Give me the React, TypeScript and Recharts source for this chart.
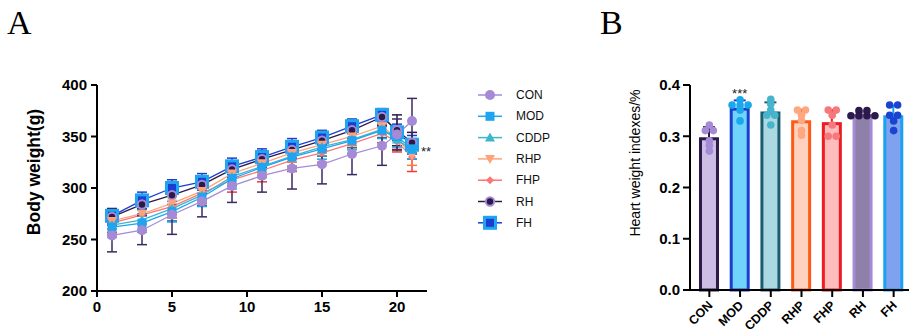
import React from 'react';
import { LineChart, Line, XAxis, YAxis, ErrorBar, ComposedChart, Bar, Scatter } from 'recharts';

// ---- Panel A: body weight over time ----
const days = [1, 3, 5, 7, 9, 11, 13, 15, 17, 19, 20, 21];
const dayTicks = [0, 5, 10, 15, 20];
const weightTicks = [200, 250, 300, 350, 400];

const conWeight = [254, 259, 274, 287, 302, 312, 319, 323, 333, 341, 352, 365];
const conWeightSd = [16, 14, 19, 15, 16, 16, 20, 19, 20, 19, 15, 22];
const modWeight = [262, 266, 277, 291, 309, 320, 330, 338, 346, 356, 350, 338];
const modWeightSd = [10, 9, 10, 9, 10, 10, 9, 10, 9, 8, 10, 10];
const cddpWeight = [264, 269, 280, 293, 311, 321, 331, 340, 347, 357, 347, 337];
const cddpWeightSd = [9, 10, 12, 10, 9, 9, 10, 9, 8, 8, 10, 9];
const rhpWeight = [268, 275, 285, 297, 314, 324, 334, 342, 350, 360, 348, 332];
const rhpWeightSd = [8, 9, 10, 9, 10, 9, 9, 8, 9, 8, 9, 10];
const fhpWeight = [266, 274, 282, 295, 308, 317, 327, 334, 343, 353, 345, 330];
const fhpWeightSd = [9, 9, 11, 10, 12, 11, 11, 9, 10, 9, 10, 14];
const rhWeight = [272, 284, 293, 303, 318, 328, 337, 346, 356, 369, 356, 344];
const rhWeightSd = [8, 9, 9, 8, 8, 8, 8, 9, 8, 8, 15, 10];
const fhWeight = [273, 288, 300, 306, 321, 330, 340, 349, 360, 371, 354, 342];
const fhWeightSd = [7, 8, 8, 8, 8, 8, 8, 7, 7, 6, 8, 9];

// ---- Panel B: heart weight index, one value per animal ----
const groups = ['CON', 'MOD', 'CDDP', 'RHP', 'FHP', 'RH', 'FH'];
const heartTicks = [0, 0.1, 0.2, 0.3, 0.4];
const conHeart = [0.322, 0.311, 0.311, 0.291, 0.282, 0.271];
const modHeart = [0.371, 0.361, 0.361, 0.361, 0.351, 0.330];
const cddpHeart = [0.372, 0.363, 0.351, 0.341, 0.341, 0.322];
const rhpHeart = [0.351, 0.351, 0.341, 0.331, 0.311, 0.302];
const fhpHeart = [0.351, 0.351, 0.341, 0.322, 0.300, 0.300];
const rhHeart = [0.350, 0.350, 0.340, 0.340, 0.340, 0.340];
const fhHeart = [0.361, 0.361, 0.341, 0.341, 0.330, 0.311];

const FONT = 'Arial, "Liberation Sans", Helvetica, sans-serif';
const SERIF = '"Liberation Serif", "Times New Roman", serif';

type MarkerKind = 'circle' | 'square' | 'triangle' | 'triangleDown' | 'diamond' | 'ringDot' | 'boxSquare';

const weightSeries = [
  { key: 'CON', mean: conWeight, sd: conWeightSd, color: '#a58bd6', err: '#3b2a63', marker: 'circle' as MarkerKind },
  { key: 'MOD', mean: modWeight, sd: modWeightSd, color: '#1ea4f0', err: '#1ea4f0', marker: 'square' as MarkerKind },
  { key: 'CDDP', mean: cddpWeight, sd: cddpWeightSd, color: '#3cb6cc', err: '#1d6e80', marker: 'triangle' as MarkerKind },
  { key: 'RHP', mean: rhpWeight, sd: rhpWeightSd, color: '#ffa27a', err: '#ff7a40', marker: 'triangleDown' as MarkerKind },
  { key: 'FHP', mean: fhpWeight, sd: fhpWeightSd, color: '#ff7474', err: '#f03c3c', marker: 'diamond' as MarkerKind },
  { key: 'RH', mean: rhWeight, sd: rhWeightSd, color: '#2a1a48', err: '#2a1a48', edge: '#a58bd6', marker: 'ringDot' as MarkerKind },
  { key: 'FH', mean: fhWeight, sd: fhWeightSd, color: '#1a3fd0', err: '#1a3fd0', edge: '#1ea4f0', marker: 'boxSquare' as MarkerKind },
];

const weightRows = days.map((day, i) => {
  const row: Record<string, number> = { day };
  weightSeries.forEach((s) => {
    row[s.key] = s.mean[i];
    row[s.key + '_sd'] = s.sd[i];
  });
  return row;
});

const heartStyles: Record<string, { fill: string; stroke: string; dot: string }> = {
  CON: { fill: '#cbbde3', stroke: '#2b1a4a', dot: '#a58bd6' },
  MOD: { fill: '#6fd3fa', stroke: '#1a3fd0', dot: '#1aa8ec' },
  CDDP: { fill: '#acd9e1', stroke: '#1c5c70', dot: '#46b4cc' },
  RHP: { fill: '#ffd2bf', stroke: '#ff5a14', dot: '#ffa77e' },
  FHP: { fill: '#ffbcbc', stroke: '#ec1c24', dot: '#f7787a' },
  RH: { fill: '#8e80a8', stroke: '#a58bd6', dot: '#2b1a4a' },
  FH: { fill: '#7fa2ee', stroke: '#1aa0f0', dot: '#1a44d0' },
};

const heartValues = [conHeart, modHeart, cddpHeart, rhpHeart, fhpHeart, rhHeart, fhHeart];

const heartRows = groups.map((name, i) => {
  const vals = heartValues[i];
  const mean = vals.reduce((a, b) => a + b, 0) / vals.length;
  const sd = Math.sqrt(vals.reduce((a, b) => a + (b - mean) ** 2, 0) / (vals.length - 1));
  return { pos: i, name, mean, sd };
});

// dots sharing a value are spread sideways like a small swarm
const heartDots = groups.flatMap((name, i) => {
  const vals = heartValues[i];
  return vals.map((value, j) => {
    const ties = vals.filter((v) => Math.abs(v - value) < 0.004);
    const rank = vals.slice(0, j).filter((v) => Math.abs(v - value) < 0.004).length;
    return { pos: i, value, name, shift: (rank - (ties.length - 1) / 2) * 8 };
  });
});

function Marker({ kind, cx, cy, color, edge }: { kind: MarkerKind; cx: number; cy: number; color: string; edge?: string }) {
  if (cx == null || cy == null) return <g />;
  switch (kind) {
    case 'circle':
      return <circle cx={cx} cy={cy} r={5} fill={color} />;
    case 'square':
      return <rect x={cx - 4.5} y={cy - 4.5} width={9} height={9} fill={color} />;
    case 'triangle':
      return <polygon points={`${cx},${cy - 5} ${cx + 5},${cy + 4} ${cx - 5},${cy + 4}`} fill={color} />;
    case 'triangleDown':
      return <polygon points={`${cx},${cy + 5} ${cx + 5},${cy - 4} ${cx - 5},${cy - 4}`} fill={color} />;
    case 'diamond':
      return <polygon points={`${cx},${cy - 4} ${cx + 4},${cy} ${cx},${cy + 4} ${cx - 4},${cy}`} fill={color} />;
    case 'ringDot':
      return <circle cx={cx} cy={cy} r={4.2} fill={color} stroke={edge} strokeWidth={2} />;
    case 'boxSquare':
      return <rect x={cx - 5.5} y={cy - 5.5} width={11} height={11} fill={color} stroke={edge} strokeWidth={3} />;
  }
  return <g />;
}

const AxisTitle = ({ text, cx, cy, bold, size }: { text: string; cx: number; cy: number; bold?: boolean; size: number }) => (
  <text
    x={cx}
    y={cy}
    transform={`rotate(-90, ${cx}, ${cy})`}
    textAnchor="middle"
    dominantBaseline="central"
    fontSize={size}
    fontWeight={bold ? 'bold' : 'normal'}
    fill="#000"
    style={{ fontFamily: FONT }}
  >
    {text}
  </text>
);

const WeightLegend = () => (
  <svg width={110} height={160} style={{ position: 'absolute', left: 470, top: 80 }}>
    {weightSeries.map((s, i) => {
      const y = 15 + i * 21.3;
      return (
        <g key={s.key}>
          <line x1={8} x2={32} y1={y} y2={y} stroke={s.key === 'RH' ? '#2a1a48' : s.color} strokeWidth={1.5} />
          <Marker kind={s.marker} cx={20} cy={y} color={s.color} edge={s.edge} />
          <text x={46} y={y} dominantBaseline="central" fontSize={12} fill="#111" style={{ fontFamily: FONT }}>
            {s.key}
          </text>
        </g>
      );
    })}
  </svg>
);

const HeartBar = (props: any) => {
  const { x, y, width, height, payload } = props;
  if (x == null || !payload) return <g />;
  const st = heartStyles[payload.name];
  const unit = height / payload.mean;
  const top = y - payload.sd * unit;
  const mid = x + width / 2;
  return (
    <g>
      <rect x={x + 1.5} y={y + 1.5} width={width - 3} height={height - 1.5} fill={st.fill} stroke={st.stroke} strokeWidth={3} />
      <line x1={mid} x2={mid} y1={y} y2={top} stroke={st.stroke} strokeWidth={2} />
      <line x1={mid - 6} x2={mid + 6} y1={top} y2={top} stroke={st.stroke} strokeWidth={2} />
    </g>
  );
};

const CategoryTick = (props: any) => {
  const { x, y, payload } = props;
  const tx = x + 4;
  const ty = y + 7;
  return (
    <text
      x={tx}
      y={ty}
      transform={`rotate(-45, ${tx}, ${ty})`}
      textAnchor="end"
      fontSize={12.5}
      fontWeight="bold"
      fill="#000"
      style={{ fontFamily: FONT }}
    >
      {groups[payload.value]}
    </text>
  );
};

const tickStyle = { fill: '#000', fontSize: 15, fontWeight: 'bold' as const };
const axisStroke = { stroke: '#000', strokeWidth: 2 };

export default function App() {
  const lastIndex = days.length - 1;
  const drawOrder = [...weightSeries].reverse();
  return (
    <div style={{ position: 'absolute', left: 0, top: 0, width: 909, height: 335, background: '#fff', fontFamily: FONT }}>
      <div style={{ position: 'absolute', left: 7, top: 4, fontFamily: SERIF, fontSize: 34 }}>A</div>
      <div style={{ position: 'absolute', left: 600, top: 4, fontFamily: SERIF, fontSize: 34 }}>B</div>

      <div style={{ position: 'absolute', left: 0, top: 0 }}>
        <LineChart width={560} height={335} data={weightRows} margin={{ top: 85, right: 133, bottom: 14, left: 37 }}>
          <XAxis
            type="number"
            dataKey="day"
            domain={[0, 22]}
            ticks={dayTicks}
            tick={tickStyle}
            axisLine={axisStroke}
            tickLine={axisStroke}
            tickSize={6}
            tickMargin={4}
            height={30}
          />
          <YAxis
            type="number"
            domain={[200, 400]}
            ticks={weightTicks}
            tick={tickStyle}
            axisLine={axisStroke}
            tickLine={axisStroke}
            tickSize={6}
            tickMargin={4}
            width={60}
            label={<AxisTitle text="Body weight(g)" cx={34} cy={172} bold size={17.5} />}
          />
          {drawOrder.map((s) => (
            <Line
              key={s.key}
              type="linear"
              dataKey={s.key}
              stroke={s.color}
              strokeWidth={1.3}
              isAnimationActive={false}
              dot={(p: any) => <Marker key={`${s.key}-${p.index}`} kind={s.marker} cx={p.cx} cy={p.cy} color={s.color} edge={s.edge} />}
              activeDot={false}
              label={
                s.key === 'MOD'
                  ? (p: any) =>
                      p.index === lastIndex ? (
                        <text key="sig" x={p.x + 9} y={p.y + 7} fontSize={13} fill="#222" style={{ fontFamily: FONT }}>
                          **
                        </text>
                      ) : (
                        <g key={`n${p.index}`} />
                      )
                  : false
              }
            >
              <ErrorBar dataKey={s.key + '_sd'} width={5} strokeWidth={1.5} stroke={s.err} direction="y" />
            </Line>
          ))}
        </LineChart>
      </div>

      <WeightLegend />

      <div style={{ position: 'absolute', left: 560, top: 0 }}>
        <ComposedChart width={349} height={335} data={heartRows} margin={{ top: 85, right: 0, bottom: 15, left: 70 }}>
          <XAxis
            type="number"
            dataKey="pos"
            domain={[-0.63, 6.5]}
            ticks={groups.map((_, i) => i)}
            tick={<CategoryTick />}
            axisLine={axisStroke}
            tickLine={axisStroke}
            tickSize={7}
            height={30}
            allowDataOverflow
          />
          <YAxis
            type="number"
            domain={[0, 0.4]}
            ticks={heartTicks}
            tickFormatter={(v: number) => v.toFixed(1)}
            tick={tickStyle}
            axisLine={axisStroke}
            tickLine={axisStroke}
            tickSize={7}
            tickMargin={3}
            width={60}
            label={<AxisTitle text="Heart weight indexes/%" cx={75} cy={163} size={14} />}
          />
          <Bar
            dataKey="mean"
            barSize={20}
            isAnimationActive={false}
            shape={<HeartBar />}
            label={(p: any) =>
              p.index === 1 ? (
                <text key="sig" x={p.x + p.width / 2} y={p.y - 10} textAnchor="middle" fontSize={13} fill="#222" style={{ fontFamily: FONT }}>
                  ***
                </text>
              ) : (
                <g key={`n${p.index}`} />
              )
            }
          />
          <Scatter
            data={heartDots}
            dataKey="value"
            isAnimationActive={false}
            shape={(p: any) => (
              <circle cx={p.cx + (p.payload?.shift ?? 0)} cy={p.cy} r={3.8} fill={heartStyles[p.payload?.name]?.dot ?? '#000'} />
            )}
          />
        </ComposedChart>
      </div>
    </div>
  );
}
